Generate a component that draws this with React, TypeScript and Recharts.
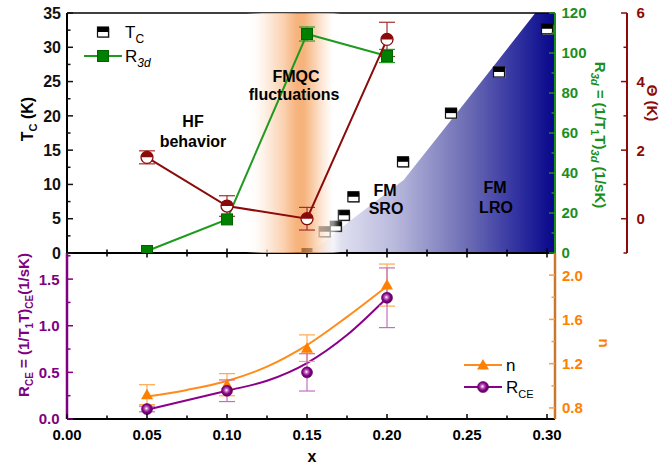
import React from 'react';
import { ComposedChart, Scatter, Line, Area, XAxis, YAxis, ErrorBar, ReferenceLine } from 'recharts';

const FONT = "'Liberation Sans', Arial, Helvetica, sans-serif";

// ---------- top panel data ----------
const tcX = [0.15, 0.161, 0.168, 0.173, 0.179, 0.21, 0.24, 0.27, 0.30];
const tcVals = [0, 3.1, 3.9, 5.5, 8.2, 13.3, 20.4, 26.4, 32.7];
const r3dX = [0.05, 0.10, 0.15, 0.20];
const r3dVals = [1.0, 16.8, 109.5, 98.5];
const r3dErr = [0, 0, 3.5, 3.3];
const thetaX = [0.05, 0.10, 0.15, 0.20];
const thetaVals = [1.79, 0.37, 0.0, 5.23];
const thetaErr = [0.19, 0.3, 0.33, 0.5];
// FM region boundary (Tc scale) and FMQC band extent (x)
const fmEdgeX = [0.152, 0.177, 0.2104, 0.25, 0.2927, 0.305];
const fmEdgeTc = [0, 4.7, 10.65, 22.3, 35, 35];
const fmqcX = [0.112, 0.18];
const fmqcTc = [35, 35];

// ---------- bottom panel data ----------
const ptX = [0.05, 0.10, 0.15, 0.20];
const nVals = [0.92, 1.01, 1.34, 1.91];
const nErr = [0.09, 0.1, 0.12, 0.19];
const rceVals = [0.107, 0.303, 0.50, 1.30];
const rceErr = [0.03, 0.116, 0.2, 0.32];
const fitX = [0.05, 0.075, 0.10, 0.125, 0.15, 0.175, 0.20];
const nFit = [0.903, 0.963, 1.044, 1.173, 1.368, 1.623, 1.90];
const rceFit = [0.10, 0.20, 0.303, 0.41, 0.60, 0.90, 1.30];

// ---------- ticks ----------
const xTicks = [0, 0.025, 0.05, 0.075, 0.1, 0.125, 0.15, 0.175, 0.2, 0.225, 0.25, 0.275, 0.3];
const xLabels = [0, 0.05, 0.1, 0.15, 0.2, 0.25, 0.3];
const tcTicks = [0, 2.5, 5, 7.5, 10, 12.5, 15, 17.5, 20, 22.5, 25, 27.5, 30, 32.5, 35];
const tcLabels = [0, 5, 10, 15, 20, 25, 30, 35];
const r3dTicks = [0, 10, 20, 30, 40, 50, 60, 70, 80, 90, 100, 110, 120];
const r3dLabels = [0, 20, 40, 60, 80, 100, 120];
const thetaTicks = [-1, 0, 1, 2, 3, 4, 5, 6];
const thetaLabels = [0, 2, 4, 6];
const rceTicks = [0, 0.25, 0.5, 0.75, 1.0, 1.25, 1.5, 1.75];
const rceLabels = [0, 0.5, 1.0, 1.5];
const nTicks = [0.8, 1.0, 1.2, 1.4, 1.6, 1.8, 2.0];
const nLabels = [0.8, 1.2, 1.6, 2.0];

const zip = (xs: number[], ys: number[], es?: number[]) =>
  xs.map((x, i) => ({ x, y: ys[i], e: es ? es[i] : 0 }));

const tcData = zip(tcX, tcVals);
const r3dData = zip(r3dX, r3dVals, r3dErr);
const thetaData = zip(thetaX, thetaVals, thetaErr);
const fmData = zip(fmEdgeX, fmEdgeTc);
const bandData = zip(fmqcX, fmqcTc);
const nData = zip(ptX, nVals, nErr);
const rceData = zip(ptX, rceVals, rceErr);
const nFitData = zip(fitX, nFit);
const rceFitData = zip(fitX, rceFit);

const GREEN = '#1a8f1a';
const DRED = '#8b0a0a';
const PURPLE = '#800080';
const ORANGE = '#ff8000';

const isIn = (arr: number[], v: number) => arr.some((a) => Math.abs(a - v) < 1e-6);

function yTick(o: { side: 'left' | 'right'; dir: number; labels: number[]; color: string; tickColor?: string; fontSize: number; digits: number; gap: number }) {
  return (p: any) => {
    const v = p.payload.value;
    const major = isIn(o.labels, v);
    const len = major ? 6 : 3.5;
    return (
      <g>
        <line x1={p.x} x2={p.x + o.dir * len} y1={p.y} y2={p.y} stroke={o.tickColor ?? o.color} strokeWidth={1.5} />
        {major && (
          <text
            x={o.side === 'left' ? p.x - o.gap : p.x + o.gap}
            y={p.y}
            dy="0.36em"
            textAnchor={o.side === 'left' ? 'end' : 'start'}
            fill={o.color}
            fontSize={o.fontSize}
            fontWeight="bold"
            fontFamily={FONT}
          >
            {v.toFixed(o.digits)}
          </text>
        )}
      </g>
    );
  };
}

const xCrossTick = (p: any) => {
  const l = isIn(xLabels, p.payload.value) ? 4.5 : 3.5;
  return <line x1={p.x} x2={p.x} y1={p.y - l} y2={p.y + l} stroke="#000" strokeWidth={1.5} />;
};

const xBottomTick = (p: any) => {
  const v = p.payload.value;
  const major = isIn(xLabels, v);
  return (
    <g>
      <line x1={p.x} x2={p.x} y1={p.y} y2={p.y - (major ? 5 : 3.5)} stroke="#000" strokeWidth={1.5} />
      {major && (
        <text x={p.x} y={p.y + 21} textAnchor="middle" fontSize={15} fontWeight="bold" fill="#000" fontFamily={FONT}>
          {v.toFixed(2)}
        </text>
      )}
    </g>
  );
};

const TcMark = ({ cx, cy, halfOnly }: { cx: number; cy: number; halfOnly?: boolean }) => {
  if (halfOnly) {
    return <rect x={cx - 5.5} y={cy - 5} width={11} height={5} fill="#000" />;
  }
  return (
    <g>
      <rect x={cx - 4.5} y={cy - 4} width={11} height={10} fill="#9a9a9a" />
      <rect x={cx - 5.5} y={cy - 5} width={11} height={10} fill="#fff" stroke="#111" strokeWidth={1.2} />
      <rect x={cx - 5.5} y={cy - 5} width={11} height={5} fill="#000" />
    </g>
  );
};

const GreenSq = ({ cx, cy }: { cx: number; cy: number }) => (
  <rect x={cx - 5.5} y={cy - 5.5} width={11} height={11} fill="#008000" stroke="#006400" strokeWidth={1} />
);

const ThetaDot = ({ cx, cy }: { cx: number; cy: number }) => (
  <g>
    <circle cx={cx} cy={cy} r={6} fill="#fff" stroke={DRED} strokeWidth={1.3} />
    <path d={`M${cx - 6},${cy} A6,6 0 0 1 ${cx + 6},${cy} Z`} fill={DRED} />
  </g>
);

const Tri = ({ cx, cy }: { cx: number; cy: number }) => (
  <polygon points={`${cx},${cy - 6} ${cx - 6},${cy + 4.5} ${cx + 6},${cy + 4.5}`} fill={ORANGE} />
);

const Sphere = ({ cx, cy }: { cx: number; cy: number }) => (
  <circle cx={cx} cy={cy} r={5.5} fill="url(#sphGrad)" stroke="#5a005a" strokeWidth={0.6} />
);

const tcShape = (p: any) => <TcMark cx={p.cx} cy={p.cy} halfOnly={p.payload && p.payload.y === 0} />;
const greenShape = (p: any) => <GreenSq cx={p.cx} cy={p.cy} />;
const thetaShape = (p: any) => <ThetaDot cx={p.cx} cy={p.cy} />;
const triShape = (p: any) => <Tri cx={p.cx} cy={p.cy} />;
const sphShape = (p: any) => <Sphere cx={p.cx} cy={p.cy} />;

const txt = { fontFamily: FONT, fontWeight: 'bold' as const };

// identical axis frame for the three stacked layers of the upper panel
function topAxes(visible: boolean) {
  const hid = { axisLine: false as const, tick: false as const, tickLine: false as const };
  return [
    <XAxis key="x" dataKey="x" type="number" domain={[0, 0.305]} allowDataOverflow ticks={xTicks} interval={0} height={12}
      tickSize={0} tickMargin={0} tickLine={false}
      {...(visible ? { axisLine: { stroke: '#000', strokeWidth: 2 }, tick: xCrossTick } : hid)} />,
    <YAxis key="tc" yAxisId="tc" orientation="left" type="number" domain={[0, 35]} allowDataOverflow ticks={tcTicks} interval={0}
      width={67} tickSize={0} tickMargin={0} tickLine={false}
      {...(visible ? { axisLine: { stroke: '#000', strokeWidth: 2 }, tick: yTick({ side: 'left', dir: 1, labels: tcLabels, color: '#111', fontSize: 16, digits: 0, gap: 6 }) } : hid)} />,
    <YAxis key="r3d" yAxisId="r3d" orientation="right" type="number" domain={[0, 120]} allowDataOverflow ticks={r3dTicks} interval={0}
      width={72} tickSize={0} tickMargin={0} tickLine={false}
      {...(visible ? { axisLine: { stroke: GREEN, strokeWidth: 2 }, tick: yTick({ side: 'right', dir: -1, labels: r3dLabels, color: GREEN, fontSize: 15, digits: 0, gap: 6.5 }) } : hid)} />,
    <YAxis key="th" yAxisId="theta" orientation="right" type="number" domain={[-1, 6]} allowDataOverflow ticks={thetaTicks} interval={0}
      width={45} tickSize={0} tickMargin={0} tickLine={false}
      {...(visible ? { axisLine: { stroke: DRED, strokeWidth: 2 }, tick: yTick({ side: 'right', dir: -1, labels: thetaLabels, color: DRED, fontSize: 15, digits: 0, gap: 9.5 }) } : hid)} />,
  ];
}

const TOP_W = 672;
const TOP_H = 265;
const TOP_M = { top: 13, right: 0, bottom: 0, left: 0 };
const layer: React.CSSProperties = { position: 'absolute', left: 0, top: 0 };

export default function App() {
  return (
    <div style={{ position: 'absolute', left: 0, top: 0, width: 672, height: 465, background: '#fff', fontFamily: FONT }}>
      <svg width={0} height={0} style={{ position: 'absolute' }}>
        <defs>
          <linearGradient id="fmGrad" x1="0" y1="0" x2="1" y2="0">
            <stop offset="0" stopColor="#f6f6fc" />
            <stop offset="0.35" stopColor="#b8b8dc" />
            <stop offset="0.65" stopColor="#6a6ab4" />
            <stop offset="0.85" stopColor="#3030a0" />
            <stop offset="1" stopColor="#06068a" />
          </linearGradient>
          <linearGradient id="bandGrad" x1="0" y1="0" x2="1" y2="0">
            <stop offset="0" stopColor="#ffffff" stopOpacity={0} />
            <stop offset="0.15" stopColor="#fdeee2" stopOpacity={0.7} />
            <stop offset="0.35" stopColor="#f9c49a" stopOpacity={0.8} />
            <stop offset="0.47" stopColor="#f39548" stopOpacity={0.72} />
            <stop offset="0.53" stopColor="#f39548" stopOpacity={0.72} />
            <stop offset="0.66" stopColor="#fbd0ae" stopOpacity={0.75} />
            <stop offset="0.8" stopColor="#ffffff" stopOpacity={0.55} />
            <stop offset="0.87" stopColor="#ffffff" stopOpacity={0} />
            <stop offset="1" stopColor="#ffffff" stopOpacity={0} />
          </linearGradient>
          <radialGradient id="sphGrad" cx="0.45" cy="0.45" r="0.6">
            <stop offset="0" stopColor="#ffffff" />
            <stop offset="0.28" stopColor="#c060c0" />
            <stop offset="0.6" stopColor="#800080" />
            <stop offset="1" stopColor="#5a005a" />
          </radialGradient>
        </defs>
      </svg>

      {/* upper panel: base layer (axes, FM region, Tc) */}
      <div style={layer}>
        <ComposedChart width={TOP_W} height={TOP_H} margin={TOP_M}>
          {topAxes(true)}
          <Area yAxisId="tc" data={fmData} dataKey="y" type="linear" stroke="none" fill="url(#fmGrad)" fillOpacity={1}
            isAnimationActive={false} dot={false} activeDot={false} />
          <ReferenceLine yAxisId="tc" y={35} stroke="#000" strokeWidth={1.5} />
          <Scatter yAxisId="tc" data={tcData} dataKey="y" shape={tcShape} isAnimationActive={false} />
        </ComposedChart>
      </div>

      {/* upper panel: FMQC band layer */}
      <div style={layer}>
        <ComposedChart width={TOP_W} height={TOP_H} margin={TOP_M}>
          {topAxes(false)}
          <Area yAxisId="tc" data={bandData} dataKey="y" type="linear" stroke="none" fill="url(#bandGrad)" fillOpacity={1}
            isAnimationActive={false} dot={false} activeDot={false} />
        </ComposedChart>
      </div>

      {/* upper panel: R3d and Theta layer */}
      <div style={layer}>
        <ComposedChart width={TOP_W} height={TOP_H} margin={TOP_M}>
          {topAxes(false)}
          <Scatter yAxisId="r3d" data={r3dData} dataKey="y" line={{ stroke: '#1f9a1f', strokeWidth: 2 }} shape={greenShape} isAnimationActive={false}>
            <ErrorBar dataKey="e" direction="y" width={8} stroke="#2a9a2a" strokeWidth={1.2} />
          </Scatter>
          <Scatter yAxisId="theta" data={thetaData} dataKey="y" line={{ stroke: DRED, strokeWidth: 2 }} shape={thetaShape} isAnimationActive={false}>
            <ErrorBar dataKey="e" direction="y" width={8} stroke="#a03030" strokeWidth={1.2} />
          </Scatter>
        </ComposedChart>
      </div>

      {/* lower panel */}
      <div style={{ position: 'absolute', left: 0, top: 245 }}>
        <ComposedChart width={672} height={220} margin={{ top: 8, right: 0, bottom: 0, left: 0 }}>
          <XAxis dataKey="x" type="number" domain={[0, 0.305]} allowDataOverflow ticks={xTicks} interval={0} height={46}
            tickSize={0} tickMargin={0} tickLine={false} axisLine={{ stroke: '#000', strokeWidth: 2 }} tick={xBottomTick} />
          <YAxis yAxisId="rce" orientation="left" type="number" domain={[0, 1.78]} allowDataOverflow ticks={rceTicks} interval={0}
            width={67} tickSize={0} tickMargin={0} tickLine={false} axisLine={{ stroke: PURPLE, strokeWidth: 2.5 }}
            tick={yTick({ side: 'left', dir: 1, labels: rceLabels, color: PURPLE, fontSize: 15, digits: 1, gap: 7.5 })} />
          <YAxis yAxisId="n" orientation="right" type="number" domain={[0.7, 2.2]} allowDataOverflow ticks={nTicks} interval={0}
            width={117} tickSize={0} tickMargin={0} tickLine={false} axisLine={{ stroke: '#c8782e', strokeWidth: 2.5 }}
            tick={yTick({ side: 'right', dir: -1, labels: nLabels, color: ORANGE, tickColor: '#ff9a40', fontSize: 15, digits: 1, gap: 7 })} />
          <Line yAxisId="n" data={nFitData} dataKey="y" type="monotone" stroke="#ff8c1a" strokeWidth={2} dot={false} activeDot={false} isAnimationActive={false} />
          <Line yAxisId="rce" data={rceFitData} dataKey="y" type="monotone" stroke="#8b008b" strokeWidth={2} dot={false} activeDot={false} isAnimationActive={false} />
          <Scatter yAxisId="n" data={nData} dataKey="y" shape={triShape} isAnimationActive={false}>
            <ErrorBar dataKey="e" direction="y" width={8} stroke="#ffa850" strokeWidth={1.2} />
          </Scatter>
          <Scatter yAxisId="rce" data={rceData} dataKey="y" shape={sphShape} isAnimationActive={false}>
            <ErrorBar dataKey="e" direction="y" width={8} stroke="#c070c0" strokeWidth={1.2} />
          </Scatter>
        </ComposedChart>
      </div>

      <svg width={672} height={465} style={{ position: 'absolute', left: 0, top: 0, pointerEvents: 'none' }}>
        {/* top-left legend */}
        <TcMark cx={103} cy={32} />
        <text x={125} y={38} fontFamily={FONT} fontSize={17} fill="#000">
          T<tspan dy={5} fontSize={12}>C</tspan>
        </text>
        <line x1={84} x2={122} y1={56} y2={56} stroke="#1f9a1f" strokeWidth={2} />
        <GreenSq cx={103} cy={56} />
        <text x={125} y={62} fontFamily={FONT} fontSize={17} fill="#000">
          R<tspan dy={5} fontSize={12} fontStyle="italic">3d</tspan>
        </text>

        {/* annotations */}
        <text x={193} y={127} textAnchor="middle" fontSize={16} {...txt}>HF</text>
        <text x={193} y={147} textAnchor="middle" fontSize={16} {...txt}>behavior</text>
        <text x={296} y={82} textAnchor="middle" fontSize={16} {...txt}>FMQC</text>
        <text x={294} y={100} textAnchor="middle" fontSize={16} {...txt}>fluctuations</text>
        <text x={385} y={196} textAnchor="middle" fontSize={16} {...txt}>FM</text>
        <text x={386} y={214} textAnchor="middle" fontSize={16} {...txt}>SRO</text>
        <text x={495} y={193} textAnchor="middle" fontSize={16} {...txt}>FM</text>
        <text x={496} y={213} textAnchor="middle" fontSize={16} {...txt}>LRO</text>

        {/* axis titles */}
        <text transform="translate(33,119) rotate(-90)" textAnchor="middle" fontSize={16} fill="#000" {...txt}>
          T<tspan dy={4} fontSize={11}>C</tspan><tspan dy={-4}>{' (K)'}</tspan>
        </text>
        <text transform="translate(595,135) rotate(90)" textAnchor="middle" fontSize={15} fill={GREEN} {...txt}>
          R<tspan dy={4} fontSize={11} fontStyle="italic">3d</tspan><tspan dy={-4}>{' = (1/T'}</tspan><tspan dy={4} fontSize={11}>1</tspan><tspan dy={-4}>T)</tspan><tspan dy={4} fontSize={11} fontStyle="italic">3d</tspan><tspan dy={-4}>{' (1/sK)'}</tspan>
        </text>
        <text transform="translate(647,103) rotate(90)" textAnchor="middle" fontSize={15} fill={DRED} {...txt}>
          Θ (K)
        </text>
        <text transform="translate(29,325) rotate(-90)" textAnchor="middle" fontSize={15} fill={PURPLE} {...txt}>
          R<tspan dy={4} fontSize={10}>CE</tspan><tspan dy={-4}>{' = (1/T'}</tspan><tspan dy={4} fontSize={10}>1</tspan><tspan dy={-4}>T)</tspan><tspan dy={4} fontSize={10}>CE</tspan><tspan dy={-4}>(1/sK)</tspan>
        </text>
        <text transform="translate(599,343) rotate(90)" textAnchor="middle" fontSize={15} fill={ORANGE} {...txt}>n</text>
        <text x={312} y={462} textAnchor="middle" fontSize={16} fill="#000" {...txt}>x</text>

        {/* bottom legend */}
        <line x1={464} x2={502} y1={365} y2={365} stroke="#ff8c1a" strokeWidth={2} />
        <Tri cx={483} cy={365} />
        <text x={506} y={371} fontFamily={FONT} fontSize={17} fill="#000">n</text>
        <line x1={464} x2={502} y1={387} y2={387} stroke="#8b008b" strokeWidth={2} />
        <Sphere cx={483} cy={387} />
        <text x={506} y={393} fontFamily={FONT} fontSize={17} fill="#000">
          R<tspan dy={5} fontSize={11}>CE</tspan>
        </text>
      </svg>
    </div>
  );
}
